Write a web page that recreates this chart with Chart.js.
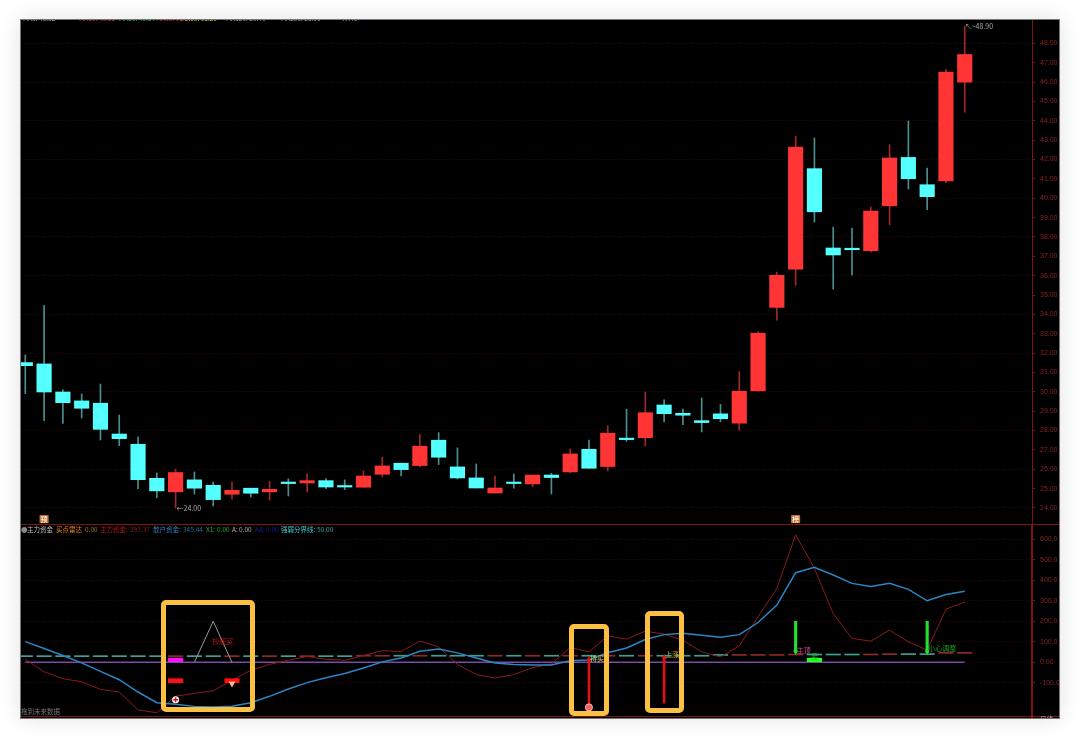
<!DOCTYPE html>
<html lang="zh">
<head>
<meta charset="utf-8">
<title>主力资金</title>
<script src="https://cdn.jsdelivr.net/npm/chart.js@4/dist/chart.umd.min.js"></script>
<style>
	html, body { margin: 0; width: 1080px; height: 739px; background: #fff; overflow: hidden; }
	#panel { position: absolute; left: 21px; top: 20px; width: 1038px; height: 698px; background: #000; overflow: hidden;
		box-shadow: 0 0 22px rgba(0,0,0,.13); outline: 1px solid #777; font-family: "Noto Sans CJK SC", sans-serif; }
	#priceWrap { position: absolute; left: 0; top: 0; }
	#fundWrap { position: absolute; left: 0; top: 504px; }
	#divider { position: absolute; left: 0; top: 504px; width: 1038px; height: 1px; background: #7c1414; }
	#baseLine { position: absolute; left: 0; top: 696px; width: 1038px; height: 1px; background: #7c1414; }
	#legendRow span, #topRow span, .note { position: absolute; white-space: nowrap; font-size: 6.5px; line-height: 8px; }
	#legendRow { position: absolute; left: 0; top: 505px; }
	#topRow { position: absolute; left: 0; top: -6px; }
	.mark { position: absolute; box-sizing: border-box; border: 5px solid #fbbf42; border-radius: 5px; }
</style>
</head>
<body>
<div id="panel">
	<div id="priceWrap"><canvas id="priceChart" width="1038" height="504"></canvas></div>
	<div id="fundWrap"><canvas id="fundChart" width="1038" height="194"></canvas></div>
	<div id="divider"></div>
	<div id="baseLine"></div>
	<div id="topRow">
		<span style="left:2px;color:#aaa">MA5: 46.02</span>
		<span style="left:58px;color:#e33">MA10: 43.11</span>
		<span style="left:98px;color:#3c3">MA20: 40.84</span>
		<span style="left:135px;color:#e33">MA30: 36.57</span>
		<span style="left:160px;color:#dd3">MA60: 31.20</span>
		<span style="left:205px;color:#aaa">MA120: 29.40</span>
		<span style="left:260px;color:#aaa">MA250: 28.66</span>
		<span style="left:320px;color:#bb3">47.43</span>
	</div>
	<div id="legendRow">
		<span style="left:0;color:#888">●</span>
		<span style="left:6px;color:#bbb">主力资金</span>
		<span style="left:35px;color:#e8861a">买点雷达</span>
		<span style="left:64px;color:#a8741a">0.00</span>
		<span style="left:79px;color:#b01818">主力资金:</span>
		<span style="left:109px;color:#8a1a1a">293.37</span>
		<span style="left:132px;color:#2f7fc0">散户资金:</span>
		<span style="left:162px;color:#2a6a9a">345.44</span>
		<span style="left:185px;color:#22b022">X1:</span>
		<span style="left:196px;color:#22a022">0.00</span>
		<span style="left:211px;color:#bbb">A:</span>
		<span style="left:218px;color:#aaa">0.00</span>
		<span style="left:234px;color:#1a1aa0">AA:</span>
		<span style="left:245px;color:#1a1a90">0.00</span>
		<span style="left:260px;color:#3fd0d8">强弱分界线:</span>
		<span style="left:296px;color:#2fa8a8">50.00</span>
	</div>
	<div class="note" style="left:0;top:687px;color:#777">拖到未来数据</div>
	<div class="note" style="left:1019px;top:695px;color:#bbb">日线</div>
</div>
<div class="mark" style="left:161px;top:600px;width:94px;height:112px"></div>
<div class="mark" style="left:569px;top:624px;width:40px;height:92px"></div>
<div class="mark" style="left:645px;top:611px;width:39px;height:102px"></div>

<script>
	// candles
	const opens = [31.51,31.44,29.99,29.53,29.41,27.82,27.29,25.53,24.83,25.45,25.17,24.71,25.02,24.83,25.29,25.29,25.41,25.12,25.07,25.74,26.31,26.19,27.50,26.12,25.55,24.77,25.29,25.24,25.70,25.86,27.03,26.14,27.60,27.63,29.32,28.89,28.51,28.86,28.38,30.05,34.36,36.34,41.53,37.43,37.38,37.29,39.61,42.11,40.70,40.89,46.00];
	const closes = [31.35,29.99,29.44,29.15,28.06,27.58,25.46,24.88,25.83,25.02,24.43,24.91,24.76,24.96,25.26,25.41,25.08,25.08,25.65,26.17,25.98,27.19,26.62,25.55,25.03,25.03,25.26,25.70,25.57,26.79,26.05,27.86,27.53,28.92,28.87,28.79,28.41,28.61,30.03,33.03,36.02,42.65,39.30,37.07,37.34,39.34,42.08,41.01,40.08,46.52,47.43];
	const highs = [31.90,34.45,30.10,29.89,30.40,28.80,27.68,25.81,26.00,25.86,25.34,25.34,25.02,25.38,25.50,25.76,25.52,25.45,25.91,26.62,26.31,27.79,27.89,27.10,26.27,25.65,25.76,25.70,25.79,27.05,27.51,28.25,29.10,29.99,29.58,29.11,29.68,29.35,31.05,33.10,36.19,43.21,43.11,38.51,38.46,39.55,42.77,43.99,41.56,46.66,48.90];
	const lows = [29.91,28.51,28.37,28.65,27.51,27.22,25.00,24.53,24.00,24.72,24.10,24.45,24.57,24.41,24.62,24.83,25.00,24.95,25.07,25.60,25.65,26.12,26.24,25.50,25.03,24.77,25.02,25.10,24.72,25.81,26.05,25.91,27.44,27.20,28.44,28.30,27.93,28.45,28.02,30.03,33.70,35.50,38.77,35.31,36.03,37.22,38.63,40.48,39.41,40.80,44.45];

	// indicator lines from the lower panel
	const mainFunds = [15,-46,-80,-95,-132,-145,-232,-246,-165,-152,-139,-88,-39,-10,10,28,15,10,33,57,52,103,75,-10,-60,-77,-60,-26,-8,72,51,129,113,152,137,108,51,26,80,222,360,622,458,238,117,103,157,100,59,259,294];
	const retailFunds = [101,67,33,-3,-44,-85,-145,-197,-205,-215,-218,-214,-197,-166,-130,-99,-75,-55,-28,2,21,54,65,46,21,-3,-11,-13,-13,7,11,47,70,111,135,142,132,122,135,194,279,437,463,426,385,370,385,356,300,331,347];
	const zeroLine = [0,0,0,0,0,0,0,0,0,0,0,0,0,0,0,0,0,0,0,0,0,0,0,0,0,0,0,0,0,0,0,0,0,0,0,0,0,0,0,0,0,0,0,0,0,0,0,0,0,0,0];
	const boundary = [30,30,30,30,30,30,30,30,30,30,30,30,30,30,30,30,30,30,32,32,32,32,32,32,32,32,32,32,32,32,32,32,32,32,32,32,32,36,36,36,36,38,38,38,38,38,40,40,40,46,46];

	// signal marks: [candle, from, to]
	const magentaBars = [[8, 0, 20]];
	const redBlocks = [[8, -100, -80], [11, -100, -80]];
	const greenBlocks = [[42, 0, 20]];
	const redArrows = [[30, -218, 16], [34, -199, 26]];
	const greenArrows = [[41, 50, 200], [48, 50, 200]];
	const peakX = [9, 10, 11];
	const peakY = [0, 200, 0];

	const priceNotes = [
		{ i: 8, v: 24.0, text: "←24.00", color: "#aaa", dx: 1 },
		{ i: 50, v: 48.9, text: "↖~48.90", color: "#aaa", dx: 0 },
		{ i: 1, v: 23.42, text: "预", color: "#fff", bg: "#c9783a", center: true },
		{ i: 41, v: 23.42, text: "榜", color: "#fff", bg: "#c9783a", center: true }
	];
	const fundNotes = [
		{ i: 10, v: 100, text: "抄底买", color: "#c01818", dx: -1 },
		{ i: 30, v: 20, text: "持买", color: "#c8d850", dx: 1 },
		{ i: 34, v: 40, text: "上涨", color: "#c8b030", dx: 1 },
		{ i: 41, v: 60, text: "主顶", color: "#d04890", dx: 1 },
		{ i: 42, v: 31, text: "卖", color: "#22b022", center: true },
		{ i: 48, v: 70, text: "小心调整", color: "#1f9a1f", dx: 1 }
	];

	const RED = "#ff3434", CYAN = "#54ffff";
	const isUp = (_, i) => closes[i] > opens[i];
	const X_MIN = -0.229, X_MAX = 53.58;
	const CANDLE_W = 14.5;

	const span = (list, a, b) => list.map((_, i) => ({ x: i, y: [a[i], b[i]] }));
	const marks = list => list.map(m => ({ x: m[0], y: [m[1], m[2]] }));
	const linePts = list => list.map((y, x) => ({ x, y }));

	// small text labels anchored to the scales
	const notesPlugin = {
		id: "notes",
		afterDatasetsDraw(chart, args, opts) {
			const { ctx, scales } = chart;
			ctx.save();
			ctx.font = '7px "Noto Sans CJK SC", sans-serif';
			ctx.textBaseline = "middle";
			(opts.items || []).forEach(n => {
				const x = scales.x.getPixelForValue(n.i) + (n.dx || 0);
				const y = scales.y.getPixelForValue(n.v);
				const w = ctx.measureText(n.text).width;
				const left = n.center ? x - w / 2 : x;
				if (n.bg) {
					ctx.fillStyle = n.bg;
					ctx.fillRect(left - 1, y - 4, w + 2, 8);
				}
				ctx.fillStyle = n.color;
				ctx.fillText(n.text, left, y);
			});
			ctx.restore();
		}
	};

	function baseOptions(yMin, yMax, step, format, notes) {
		return {
			responsive: false,
			animation: false,
			devicePixelRatio: 1,
			layout: { padding: 0, autoPadding: false },
			plugins: { legend: { display: false }, tooltip: { enabled: false }, notes: { items: notes } },
			scales: {
				x: { type: "linear", display: false, min: X_MIN, max: X_MAX, offset: false, grid: { offset: false } },
				y: {
					position: "right", min: yMin, max: yMax,
					// the panels butt together, so no room is left for the end labels
					afterFit: s => { s.width = 27; s.paddingTop = 0; s.paddingBottom = 0; },
					afterBuildTicks: s => { s.ticks = s.ticks.filter(t => format.keep(t.value)); },
					border: { color: "#7c1414", width: format.axisWidth, dash: [1, 2] },
					grid: {
						color: t => (format.grid(t.tick.value) ? "#32090a" : "transparent"),
						tickColor: "#7c1414", tickLength: 3, lineWidth: 1
					},
					ticks: {
						stepSize: step, includeBounds: false, autoSkip: false, padding: 5,
						color: "#8a2222", font: { size: 7, family: "Liberation Sans" },
						callback: format.label
					}
				}
			}
		};
	}

	new Chart(document.getElementById("priceChart"), {
		type: "bar",
		plugins: [notesPlugin],
		data: {
			datasets: [
				{ label: "wick", data: span(opens, lows, highs), barThickness: 1, grouped: false, order: 2,
					backgroundColor: opens.map((o, i) => (isUp(o, i) ? "#a02828" : "#4b8f8f")) },
				{ label: "body", data: span(opens, opens, closes), barThickness: CANDLE_W, grouped: false, order: 1, minBarLength: 1.5,
					backgroundColor: opens.map((o, i) => (isUp(o, i) ? RED : CYAN)) }
			]
		},
		options: baseOptions(23.17, 49.21, 1, {
			keep: v => v >= 24 && v <= 48,
			grid: v => v % 2 === 0,
			label: v => v.toFixed(2),
			axisWidth: 1
		}, priceNotes)
	});

	new Chart(document.getElementById("fundChart"), {
		type: "bar",
		plugins: [notesPlugin],
		data: {
			datasets: [
				{ label: "强弱分界线", data: boundary.map((v, i) => ({ x: i, y: [v - 2.5, v + 2.5] })), barThickness: CANDLE_W, grouped: false, order: 9,
					backgroundColor: opens.map((o, i) => (isUp(o, i) ? "#8c2a2a" : "#3f9f92")) },
				{ type: "line", label: "zero", data: linePts(zeroLine), borderColor: "#7a4aa6", borderWidth: 1.5, pointRadius: 0, order: 8 },
				{ type: "line", label: "peak", data: peakX.map((x, i) => ({ x, y: peakY[i] })), borderColor: "#9a9a9a", borderWidth: 1, pointRadius: 0, order: 7 },
				{ type: "line", label: "主力资金", data: linePts(mainFunds), borderColor: "#8a1c1c", borderWidth: 1, pointRadius: 0, order: 6 },
				{ type: "line", label: "散户资金", data: linePts(retailFunds), borderColor: "#2c86c6", borderWidth: 1.5, pointRadius: 0, order: 5 },
				{ label: "magenta", data: marks(magentaBars), barThickness: CANDLE_W, grouped: false, backgroundColor: "#ff10ff", order: 4 },
				{ label: "red blocks", data: marks(redBlocks), barThickness: CANDLE_W, grouped: false, backgroundColor: "#ff1010", order: 4 },
				{ label: "green block", data: marks(greenBlocks), barThickness: CANDLE_W, grouped: false, backgroundColor: "#22ff22", order: 4 },
				{ label: "red arrows", data: marks(redArrows), barThickness: 2, grouped: false, backgroundColor: "#e01018", order: 3 },
				{ label: "green arrows", data: marks(greenArrows), barThickness: 2.5, grouped: false, backgroundColor: "#22e030", order: 3 },
				{ type: "line", label: "red heads", data: redArrows.map(m => ({ x: m[0], y: m[2] })), showLine: false,
					pointStyle: "triangle", pointRadius: 3, pointBackgroundColor: "#e01018", pointBorderWidth: 0, order: 2 },
				{ type: "line", label: "green heads", data: greenArrows.map(m => ({ x: m[0], y: m[1] })), showLine: false,
					pointStyle: "triangle", pointRotation: 180, pointRadius: 3, pointBackgroundColor: "#22e030", pointBorderWidth: 0, order: 2 },
				{ type: "line", label: "ball", data: [{ x: 30, y: -220 }], showLine: false,
					pointRadius: 3.5, pointBackgroundColor: "#f06060", pointBorderColor: "#ffc0c0", pointBorderWidth: 1, order: 2 },
				{ type: "line", label: "buy dot", data: [{ x: 8, y: -183 }], showLine: false,
					pointRadius: 3.5, pointBackgroundColor: "#fff", pointBorderWidth: 0, order: 2 },
				{ type: "line", label: "buy plus", data: [{ x: 8, y: -183 }], showLine: false,
					pointStyle: "cross", pointRadius: 2.5, pointBorderColor: "#e01010", pointBorderWidth: 1.5, order: 1 },
				{ type: "line", label: "diamond", data: [{ x: 11, y: -104 }], showLine: false,
					pointStyle: "triangle", pointRotation: 180, pointRadius: 4, pointBackgroundColor: "#f4b888", pointBorderWidth: 0, order: 1 }
			]
		},
		options: baseOptions(-271.7, 674.6, 100, {
			keep: v => v >= -100 && v <= 600,
			grid: v => v >= -100,
			label: v => (v === 0 ? "0.00" : v.toFixed(1)),
			axisWidth: 2
		}, fundNotes)
	});
</script>
</body>
</html>
